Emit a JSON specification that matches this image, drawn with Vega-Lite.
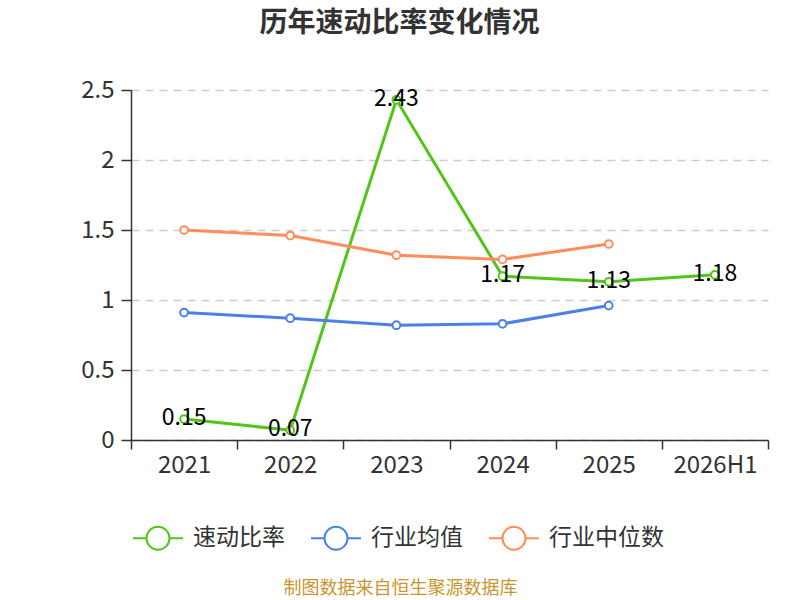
{
  "$schema": "https://vega.github.io/schema/vega-lite/v6.json",
  "autosize": {"type": "none"},
  "width": 637,
  "height": 350,
  "padding": {"left": 131, "top": 90, "right": 32, "bottom": 160},
  "title": {
    "text": "历年速动比率变化情况",
    "frame": "group",
    "anchor": "middle",
    "dx": -50,
    "offset": 40,
    "font": "Noto Sans CJK SC",
    "fontSize": 28,
    "fontWeight": "bold",
    "color": "#333333"
  },
  "data": {
    "values": [
      {"year": "2021", "series": "速动比率", "value": 0.15},
      {"year": "2022", "series": "速动比率", "value": 0.07},
      {"year": "2023", "series": "速动比率", "value": 2.43},
      {"year": "2024", "series": "速动比率", "value": 1.17},
      {"year": "2025", "series": "速动比率", "value": 1.13},
      {"year": "2026H1", "series": "速动比率", "value": 1.18},
      {"year": "2021", "series": "行业均值", "value": 0.91},
      {"year": "2022", "series": "行业均值", "value": 0.87},
      {"year": "2023", "series": "行业均值", "value": 0.82},
      {"year": "2024", "series": "行业均值", "value": 0.83},
      {"year": "2025", "series": "行业均值", "value": 0.96},
      {"year": "2021", "series": "行业中位数", "value": 1.5},
      {"year": "2022", "series": "行业中位数", "value": 1.46},
      {"year": "2023", "series": "行业中位数", "value": 1.32},
      {"year": "2024", "series": "行业中位数", "value": 1.29},
      {"year": "2025", "series": "行业中位数", "value": 1.4}
    ]
  },
  "encoding": {
    "x": {
      "field": "year",
      "type": "ordinal",
      "sort": null,
      "bandPosition": 0.5,
      "scale": {"type": "band", "paddingInner": 0, "paddingOuter": 0},
      "axis": {
        "title": "制图数据来自恒生聚源数据库",
        "titleX": 269,
        "titleY": 148,
        "titleAlign": "center",
        "titleBaseline": "middle",
        "titleColor": "#c8962e",
        "titleFontSize": 18,
        "titleFontWeight": "normal",
        "labelAngle": 0,
        "labelPadding": 4,
        "tickBand": "extent",
        "tickSize": 9,
        "grid": false
      }
    },
    "y": {
      "field": "value",
      "type": "quantitative",
      "scale": {"domain": [0, 2.5], "nice": false},
      "axis": {
        "title": null,
        "values": [0, 0.5, 1, 1.5, 2, 2.5],
        "format": "~g",
        "tickSize": 10,
        "labelPadding": 7,
        "grid": true,
        "gridColor": "#cccccc",
        "gridDash": [8, 6],
        "gridWidth": 1.5
      }
    },
    "color": {
      "field": "series",
      "type": "nominal",
      "sort": ["速动比率", "行业均值", "行业中位数"],
      "scale": {
        "domain": ["速动比率", "行业均值", "行业中位数"],
        "range": ["#52c41a", "#4d80e6", "#ff8c5a"]
      },
      "legend": {
        "title": null,
        "orient": "none",
        "direction": "horizontal",
        "legendX": 1,
        "legendY": 422,
        "symbolType": "M-1,0L-0.46,0M0.46,0L1,0M-0.46,0A0.46,0.46,0,1,0,0.46,0A0.46,0.46,0,1,0,-0.46,0Z",
        "symbolSize": 2500,
        "symbolStrokeWidth": 2,
        "symbolFillColor": "white",
        "labelFontSize": 23,
        "labelColor": "#333333",
        "labelOffset": 9,
        "columnPadding": 22
      }
    }
  },
  "layer": [
    {"mark": {"type": "line", "strokeWidth": 3}},
    {"mark": {"type": "point", "filled": false, "fill": "white", "fillOpacity": 1, "size": 60, "strokeWidth": 2, "opacity": 1}},
    {
      "transform": [{"filter": "datum.series === '速动比率'"}],
      "mark": {"type": "text", "fontSize": 23, "color": "black", "baseline": "middle", "align": "center", "dy": -1},
      "encoding": {
        "text": {"field": "value", "type": "quantitative", "format": ".2f"},
        "color": {"value": "black"}
      }
    }
  ],
  "config": {
    "font": "Noto Sans CJK SC",
    "view": {"stroke": null},
    "axis": {
      "labelFont": "Noto Sans CJK SC",
      "titleFont": "Noto Sans CJK SC",
      "labelFontSize": 24,
      "labelColor": "#333333",
      "domainColor": "#333333",
      "domainWidth": 1.5,
      "tickColor": "#333333",
      "tickWidth": 1.5
    },
    "legend": {"labelFont": "Noto Sans CJK SC"}
  }
}
